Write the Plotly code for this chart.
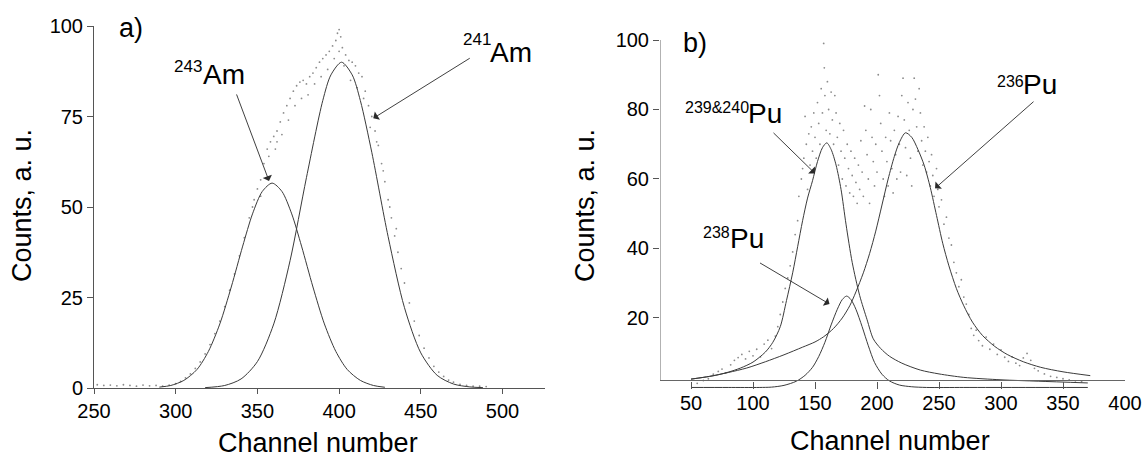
import plotly.graph_objects as go

# ---------------- Panel a) : Am spectrum ----------------
a_ch_243 = [290, 297, 305, 313, 320, 327, 334, 341, 347, 353, 359, 365, 371, 377, 384, 391, 398, 405, 413, 421, 428]
a_fit_243 = [0.25, 0.7, 2.1, 5.1, 10.1, 17.7, 27.9, 39.2, 48.1, 54.3, 56.6, 54.3, 48.1, 39.2, 27.9, 17.7, 10.1, 5.1, 2.1, 0.7, 0.2]

a_ch_241 = [318, 330, 340, 350, 360, 370, 380, 390, 395, 401.5, 408, 413, 420, 430, 440, 450, 460, 470, 480, 488]
a_fit_241 = [0.1, 0.7, 2.5, 7.3, 17.7, 35.2, 58.1, 79.4, 86.5, 90.0, 86.5, 79.4, 65.1, 41.8, 22.2, 9.7, 3.5, 1.1, 0.3, 0.1]

a_dot_ch = [252, 256, 260, 264, 268, 272, 276, 280, 284, 288, 292, 296, 300, 303, 306, 309, 312, 315,
            318, 321, 324, 327, 330, 333, 336, 339, 342, 345, 348, 350, 352, 354, 356, 358, 360, 362,
            364, 366, 368, 370, 372, 374, 376, 378, 380, 382, 384, 386, 388, 390, 392, 394, 396, 398,
            399, 400, 401, 402, 404, 406, 408, 410, 412, 414, 416, 418, 420, 422, 424, 426, 428, 430,
            432, 434, 436, 438, 440, 443, 446, 449, 452, 455, 458, 461, 464, 467, 470, 474, 478, 482,
            486, 490,
            347, 352, 357, 361, 362, 365, 369, 373, 377, 381, 385, 389, 393, 397, 400, 403, 407, 411,
            415, 419, 423, 427, 431, 435]
a_dot_counts = [0.9, 0.7, 0.8, 0.6, 0.9, 0.7, 0.5, 0.8, 0.6, 0.7, 0.5, 0.8, 1.2, 1.8, 2.8, 3.9, 5.4, 7.2,
                9.4, 12, 15, 18.5, 22.5, 27, 31.5, 36.5, 41.5, 47, 52, 55, 57.5, 62, 66, 68, 69.5, 71,
                73.5, 76, 78, 80, 82, 83.5, 84.5, 85, 84, 86, 87, 88.5, 90, 91, 92, 93, 94.5, 96,
                98, 99, 97, 94, 92, 90.5, 90, 89, 87, 86, 82, 78, 75, 71, 67, 62, 57, 52,
                47, 42, 37.5, 33, 29, 23.5, 18.5, 14.5, 11, 8.3, 6, 4.4, 3.2, 2.2, 1.6, 1.0, 0.7, 0.5,
                0.5, 0.4,
                50, 53, 64, 66, 68, 70, 74, 78, 80, 81, 84, 86, 88, 91, 93, 89, 85, 83,
                80, 72, 68, 60, 50, 44]

a_xticks = [250, 300, 350, 400, 450, 500]
a_yticks = [0, 25, 50, 75, 100]

# ---------------- Panel b) : Pu spectrum ----------------
b_ch_239 = [50, 60, 70, 80, 90, 100, 110, 116, 122, 127, 132, 136, 140, 144, 148, 152, 156, 159.5, 163,
            167, 171, 175, 180, 186, 192, 197, 203, 210, 220, 235, 250, 270, 300, 330, 370]
b_fit_239 = [2.4, 2.9, 3.5, 4.4, 5.6, 7.3, 10.2, 13, 17.5, 25, 33, 40.5, 48, 54.5, 59.5, 65, 69, 70.4, 68.5,
             64, 57, 47, 36, 26.5, 19.5, 14, 11.2, 9, 7, 5, 3.9, 2.9, 2.2, 1.8, 1.3]

b_ch_236 = [50, 65, 80, 95, 110, 125, 140, 150, 157, 165, 172, 178, 183, 189, 194, 199, 204, 209, 214,
            218, 223, 228, 233, 238, 243, 248, 253, 258, 264, 270, 277, 285, 295, 305, 318, 332, 350, 372]
b_fit_236 = [2.4, 3.2, 4.3, 5.6, 7.4, 9.4, 11.6, 13.1, 14.6, 17, 20, 23.5, 27.5, 33, 38.5, 45, 52.5, 60, 66.5,
             70.5, 73.3, 72, 68.5, 64, 57.5, 49.5, 41.5, 35, 28.5, 23.5, 18.8, 15, 11.8, 9.5, 7.4, 5.8, 4.5, 3.4]

b_ch_238 = [50, 80, 105, 115, 125, 135, 142, 148, 153, 158, 163, 168, 172, 175.5, 179, 183, 188, 193,
            198, 204, 210, 218, 228, 240, 270, 320, 370]
b_fit_238 = [0, 0, 0, 0.1, 0.6, 1.8, 3.5, 5.8, 8.9, 13, 18, 22.5, 25.3, 26.3, 25.3, 22.5, 17.5, 12,
             7.2, 3.8, 1.9, 0.7, 0.2, 0, 0, 0, 0]

b_dot_ch = [55, 60, 64, 68, 72, 75, 78, 82, 85, 88, 91, 94, 97, 100, 103, 106, 109, 112, 115, 118, 120,
            122, 124, 126, 128, 130, 132, 134, 136, 137, 139, 140, 141, 142, 143, 144, 145, 146, 147, 148,
            149, 150, 151, 152, 153, 154, 155, 156, 157, 157.5, 158, 159, 160, 161, 162, 163, 164, 165,
            166, 167, 168, 169, 170, 171, 172, 173, 174, 175, 176, 177, 178, 179, 180, 181, 182, 183, 184,
            185, 186, 187, 188, 189, 190, 191, 192, 193, 194, 195, 196, 197, 198, 199, 200, 201, 202, 203,
            204, 205, 206, 207, 208, 209, 210, 211, 212, 213, 214, 215, 216, 217, 218, 219, 220, 221, 222,
            223, 224, 225, 226, 227, 228, 229, 230, 231, 232, 233, 234, 235, 236, 237, 238, 239, 240, 241,
            242, 243, 244, 245, 246, 248, 249, 250, 252, 254, 256, 258, 260, 262, 264, 266, 268, 270, 272,
            274, 276, 278, 280, 282, 285, 288, 291, 294, 297, 300, 303, 306, 309, 312, 315, 318, 321, 324,
            327, 330, 335, 340, 345, 350, 355, 360, 365]
b_dot_counts = [1.2, 2.0, 2.5, 3.8, 4.6, 5.3, 4.2, 6.5, 7.8, 8.6, 9.5, 8.2, 10.4, 9.1, 11.0, 8.8, 12.5, 13.6,
                11.2, 14.8, 17.5, 21, 24.6, 28.5, 31.5, 35, 39, 44, 48, 55, 60, 63, 66, 78, 70, 57, 73, 64,
                75, 68, 79, 72, 66, 82, 76, 70, 86, 79, 99, 92, 84, 74, 88, 80, 73, 85, 77, 70, 84, 79, 72,
                64, 76, 68, 60, 74, 66, 58, 70, 63, 56, 68, 61, 55, 66, 59, 53, 64, 57, 71, 62, 55, 81, 74,
                67, 60, 53, 80, 72, 65, 58, 70, 62, 90, 84, 76, 68, 60, 55, 72, 65, 58, 79, 71, 63, 56, 74,
                67, 60, 78, 70, 62, 84, 89, 77, 69, 61, 82, 74, 66, 58, 80, 89, 83, 75, 68, 86, 79, 71, 64,
                75, 68, 62, 72, 65, 58, 67, 61, 55, 63, 57, 52, 54, 47, 49, 43, 41, 36, 33, 29, 31, 26, 24,
                21, 17, 15, 16.5, 13.5, 12, 14.5, 11, 12.5, 9.5, 10.8, 8.7, 7.5, 8.8, 7, 6.3, 8.5, 9.8, 7.8,
                5.5, 4.8, 3.9, 3.2, 2.9, 2.5, 2.2, 1.9, 1.7]

b_xticks = [50, 100, 150, 200, 250, 300, 350, 400]
b_yticks = [20, 40, 60, 80, 100]

# ---------------- figure ----------------
W, H = 1144, 457
LINE = '#3a3a3a'
DOT = '#8c8c8c'
FONT = 'Liberation Sans, Arial, Helvetica, sans-serif'


def px(p):
    return p / W


def py(p):
    return 1 - p / H


fig = go.Figure()

fig.add_trace(go.Scatter(x=a_dot_ch, y=a_dot_counts, mode='markers', xaxis='x', yaxis='y',
                         marker=dict(size=1.8, color=DOT), hoverinfo='skip'))
for cx, cy in [(a_ch_243, a_fit_243), (a_ch_241, a_fit_241)]:
    fig.add_trace(go.Scatter(x=cx, y=cy, mode='lines', xaxis='x', yaxis='y',
                             line=dict(color=LINE, width=1, shape='spline', smoothing=0.8), hoverinfo='skip'))

fig.add_trace(go.Scatter(x=b_dot_ch, y=b_dot_counts, mode='markers', xaxis='x2', yaxis='y2',
                         marker=dict(size=1.8, color=DOT), hoverinfo='skip'))
for cx, cy in [(b_ch_239, b_fit_239), (b_ch_236, b_fit_236), (b_ch_238, b_fit_238)]:
    fig.add_trace(go.Scatter(x=cx, y=cy, mode='lines', xaxis='x2', yaxis='y2',
                             line=dict(color=LINE, width=1, shape='spline', smoothing=0.8), hoverinfo='skip'))

axis_common = dict(showgrid=False, zeroline=False, automargin=False,
                   tickfont=dict(size=20, color='black', family=FONT),
                   tickcolor='#555', tickwidth=1)

fig.update_layout(
    width=W, height=H, margin=dict(l=0, r=0, t=0, b=0, autoexpand=False),
    paper_bgcolor='white', plot_bgcolor='white', showlegend=False,
    font=dict(family=FONT, color='black'),
    xaxis=dict(domain=[px(94), px(545)], range=[250, 526], tickvals=a_xticks, ticks='outside', ticklen=5,
               showline=True, linecolor='#555', linewidth=1, anchor='y', **axis_common),
    yaxis=dict(domain=[py(388), py(26)], range=[0, 100], tickvals=a_yticks, ticks='outside', ticklen=6,
               showline=True, linecolor='#555', linewidth=1, anchor='x', **axis_common),
    xaxis2=dict(domain=[px(660), px(1125)], range=[25, 400], tickvals=b_xticks, ticks='inside', ticklen=7,
                showline=False, anchor='y2', **axis_common),
    yaxis2=dict(domain=[py(388.5), py(40)], range=[-0.3, 100], tickvals=b_yticks, ticks='outside', ticklen=6,
                showline=False, anchor='x2', **axis_common),
)

# axis lines of panel b (its frame sits slightly above zero counts)
fig.add_shape(type='line', xref='x2', yref='y2', x0=25, x1=25, y0=2.0, y1=100, line=dict(color='#666', width=1))
fig.add_shape(type='line', xref='x2', yref='y2', x0=25, x1=400, y0=2.0, y1=2.0, line=dict(color='#666', width=1))

ann = []


def label(text, x, y, size, xanchor='left', angle=0):
    ann.append(dict(text=text, x=px(x), y=py(y), xref='paper', yref='paper', showarrow=False,
                    xanchor=xanchor, yanchor='middle', textangle=angle,
                    font=dict(size=size, color='black', family=FONT)))


def arrow(xref, yref, x, y, ax, ay):
    ann.append(dict(text='', x=x, y=y, xref=xref, yref=yref, ax=ax, ay=ay, showarrow=True,
                    arrowhead=1, arrowsize=1.8, arrowwidth=0.9, arrowcolor='#2a2a2a'))


# axis titles
label('Counts, a. u.', 22, 206, 27, xanchor='center', angle=-90)
label('Counts, a. u.', 585, 206, 27, xanchor='center', angle=-90)
label('Channel number', 318, 443, 27, xanchor='center')
label('Channel number', 890, 441, 27, xanchor='center')

# panel letters
label('a)', 117, 28, 27)
label('b)', 681, 43, 27)

# isotope labels
label('243', 172, 66, 17)
label('Am', 201, 75, 28)
label('241', 461, 39, 17)
label('Am', 488, 52, 28)
label('239&240', 683, 107, 16)
label('Pu', 746, 113, 28)
label('238', 701, 232, 16)
label('Pu', 728, 238, 28)
label('236', 995, 82, 16)
label('Pu', 1021, 85, 28)

# arrows (tip in data units, tail offset in pixels)
arrow('x', 'y', 357.1, 57.2, -33, -88)
arrow('x', 'y', 420.9, 74.5, 98, -61)
arrow('x2', 'y2', 150.0, 61.6, -43, -42)
arrow('x2', 'y2', 161.7, 24.0, -71, -42)
arrow('x2', 'y2', 246.8, 57.3, 100, -88)

fig.update_layout(annotations=ann)

# remove the browser's default page margin so the 1144x457 figure fills the window exactly
fig.write_html('out.html', config={'displayModeBar': False},
               post_script="document.body.style.margin='0';document.body.style.overflow='hidden';")
